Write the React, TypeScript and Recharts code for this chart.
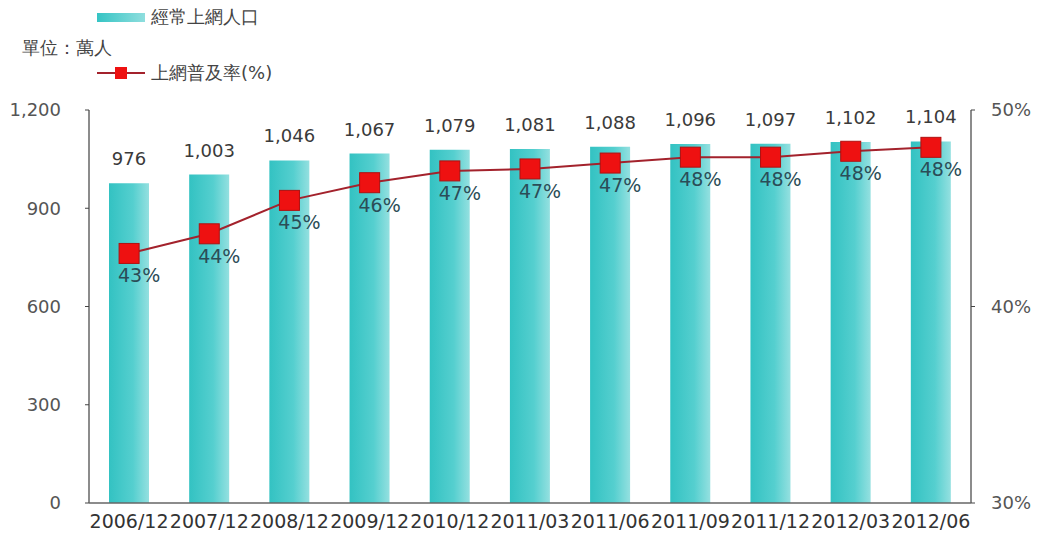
import { ComposedChart, Bar, Line, XAxis, YAxis, LabelList } from "recharts";

const periods = [
  "2006/12", "2007/12", "2008/12", "2009/12", "2010/12", "2011/03",
  "2011/06", "2011/09", "2011/12", "2012/03", "2012/06",
];
const internetUsers = [976, 1003, 1046, 1067, 1079, 1081, 1088, 1096, 1097, 1102, 1104];
const penetrationRate = [42.7, 43.7, 45.4, 46.3, 46.9, 47.0, 47.3, 47.6, 47.6, 47.9, 48.1];
const leftTicks = [0, 300, 600, 900, 1200];
const rightTicks = [30, 40, 50];

const chartData = periods.map((p, i) => ({
  period: p,
  users: internetUsers[i],
  rate: penetrationRate[i],
}));

const FONT = "'DejaVu Sans', sans-serif";

const SquareDot = (props: any) => {
  const { cx, cy } = props;
  if (cx == null || cy == null) return null;
  return <rect x={cx - 10} y={cy - 10} width={20} height={20} fill="#ee1111" stroke="#b01010" strokeWidth={1} />;
};

// percentage label sits below-right of each marker
const RateLabel = (props: any) => {
  const { x, y, value } = props;
  return (
    <text x={x + 10} y={y + 29} textAnchor="middle" fontSize={19} fill="#2b4d57" fontFamily={FONT}>
      {Math.round(value)}%
    </text>
  );
};

const ChartLegend = () => (
  <div style={{ position: "absolute", left: 0, top: 0, fontFamily: FONT, fontSize: 18, color: "#444" }}>
    <div style={{ position: "absolute", left: 97, top: 5, display: "flex", alignItems: "center", whiteSpace: "nowrap" }}>
      <span style={{ display: "inline-block", width: 48, height: 9, background: "linear-gradient(to right,#35c4c4,#8fdede)", marginRight: 6 }} />
      經常上網人口
    </div>
    <div style={{ position: "absolute", left: 22, top: 36, whiteSpace: "nowrap" }}>單位：萬人</div>
    <div style={{ position: "absolute", left: 97, top: 61, display: "flex", alignItems: "center", whiteSpace: "nowrap" }}>
      <svg width={48} height={14} style={{ marginRight: 6 }}>
        <line x1={0} y1={7} x2={48} y2={7} stroke="#a3222c" strokeWidth={2} />
        <rect x={18} y={1} width={12} height={12} fill="#ee1111" />
      </svg>
      上網普及率(%)
    </div>
  </div>
);

export default function App() {
  return (
    <div style={{ position: "absolute", left: 0, top: 0, width: 1038, height: 543, background: "#fff" }}>
      <svg width={0} height={0} style={{ position: "absolute" }}>
        <defs>
          <linearGradient id="barGrad" x1="0" y1="0" x2="1" y2="0">
            <stop offset="0%" stopColor="#33c2c2" />
            <stop offset="60%" stopColor="#55cfcf" />
            <stop offset="100%" stopColor="#94e0e0" />
          </linearGradient>
        </defs>
      </svg>
      <ComposedChart
        width={1038}
        height={543}
        data={chartData}
        margin={{ top: 110, right: 0, bottom: 0, left: 29 }}
      >
        <XAxis
          dataKey="period"
          height={40}
          interval={0}
          tick={{ fontSize: 19, fill: "#333", fontFamily: FONT }}
          tickLine={false}
          axisLine={{ stroke: "#666", strokeWidth: 1.5 }}
          tickMargin={6}
        />
        <YAxis
          yAxisId="left"
          domain={[0, 1200]}
          ticks={leftTicks}
          width={60}
          tickFormatter={(v: number) => v.toLocaleString("en-US")}
          tick={{ fontSize: 18, fill: "#555", fontFamily: FONT }}
          axisLine={{ stroke: "#666", strokeWidth: 1.5 }}
          tickLine={{ stroke: "#444" }}
          tickSize={4}
          tickMargin={24}
        />
        <YAxis
          yAxisId="right"
          orientation="right"
          domain={[30, 50]}
          ticks={rightTicks}
          width={67}
          tickFormatter={(v: number) => `${v}%`}
          tick={{ fontSize: 18, fill: "#555", fontFamily: FONT }}
          axisLine={{ stroke: "#666", strokeWidth: 1.5 }}
          tickLine={{ stroke: "#444" }}
          tickSize={4}
          tickMargin={16}
        />
        <Bar yAxisId="left" dataKey="users" barSize={40} fill="url(#barGrad)" isAnimationActive={false}>
          <LabelList
            dataKey="users"
            position="top"
            offset={18}
            formatter={(v: any) => Number(v).toLocaleString("en-US")}
            style={{ fontSize: 18, fill: "#3a3a3a", fontFamily: FONT }}
          />
        </Bar>
        <Line
          yAxisId="right"
          type="linear"
          dataKey="rate"
          stroke="#a3222c"
          strokeWidth={2}
          dot={<SquareDot />}
          activeDot={false}
          isAnimationActive={false}
        >
          <LabelList dataKey="rate" content={<RateLabel />} />
        </Line>
      </ComposedChart>
      <ChartLegend />
    </div>
  );
}
